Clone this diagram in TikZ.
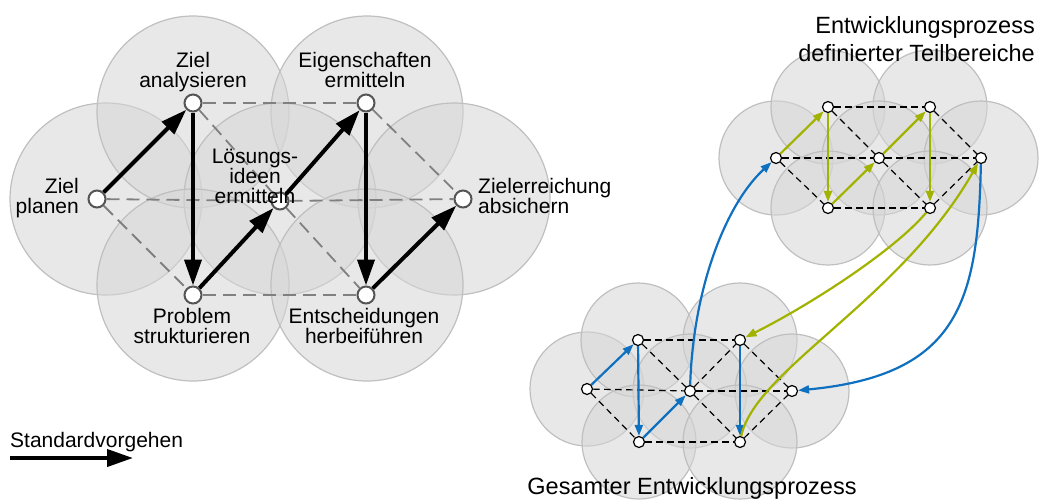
\documentclass[tikz,border=0pt]{standalone}
\usepackage{fontspec}
\setmainfont{Liberation Sans}
\usetikzlibrary{arrows.meta}
\definecolor{olivearrow}{RGB}{162,178,0}
\definecolor{bluearrow}{RGB}{16,112,192}
\definecolor{nodegray}{RGB}{85,85,85}
\definecolor{dashgray}{RGB}{128,128,128}
\begin{document}
\begin{tikzpicture}[x=1pt,y=-1pt,
  zone/.style={fill=black!16,fill opacity=0.55,draw=black!25,line width=1.2pt},
  bignode/.style={circle,draw=nodegray,fill=white,line width=2pt,minimum size=17pt,inner sep=0pt},
  smallnode/.style={circle,draw=black,fill=white,line width=1.2pt,minimum size=11pt,inner sep=0pt},
  bigdash/.style={draw=dashgray,line width=1.8pt,dash pattern=on 13pt off 7pt},
  smalldash/.style={draw=black,line width=1.2pt,dash pattern=on 6.5pt off 4.5pt},
  stdarrow/.style={line width=4pt,-{Triangle[length=26pt,width=17pt]}},
  subarrow/.style={line width=2.2pt,-{Triangle[length=11pt,width=8pt]}},
  lbl/.style={font=\fontsize{21}{19.8}\selectfont,align=center,inner sep=0pt},
  ttl/.style={font=\fontsize{23.5}{27.5}\selectfont,inner sep=0pt}]
\useasboundingbox (0,0) rectangle (1040,501);

% ---------- left: overall method, seven overlapping zones ----------
\foreach \p in {(106,199),(193,112),(367,112),(280,199),(454,199),(193,285),(367,285)}
  \draw[zone] \p circle[radius=96pt];

\node[bignode] (L)  at (97,199)  {};
\node[bignode] (TL) at (193,103) {};
\node[bignode] (TR) at (366,103) {};
\node[bignode] (C)  at (280,201) {};
\node[bignode] (R)  at (463,199) {};
\node[bignode] (BL) at (193,295) {};
\node[bignode] (BR) at (366,295) {};

\draw[bigdash] (TL) -- (TR);
\draw[bigdash] (L) -- (C);
\draw[bigdash] (C) -- (R);
\draw[bigdash] (BL) -- (BR);
\draw[bigdash] (L) -- (BL);
\draw[bigdash] (TL) -- (C);
\draw[bigdash] (C) -- (BR);
\draw[bigdash] (TR) -- (R);

\draw[stdarrow] (L) -- (TL);
\draw[stdarrow] (TL) -- (BL);
\draw[stdarrow] (BL) -- (C);
\draw[stdarrow] (C) -- (TR);
\draw[stdarrow] (TR) -- (BR);
\draw[stdarrow] (BR) -- (R);

% multi-line labels: the base anchor sits on the last line
\node[lbl,anchor=base] (tTL) at (193,87.3) {Ziel\\analysieren};
\node[lbl,anchor=base] (tTR) at (365,87.3) {Eigenschaften\\ermitteln};
\node[lbl,anchor=base east,align=right] (tL) at (79,213) {Ziel\\planen};
\node[lbl,anchor=base west,align=left] (tR) at (478,213) {Zielerreichung\\absichern};
\node[lbl,anchor=base] (tC) at (255,203) {Lösungs-\\ideen\\ermitteln};
\node[lbl,anchor=base] (tBL) at (192,343) {Problem\\strukturieren};
\node[lbl,anchor=base] (tBR) at (364,343) {Entscheidungen\\herbeiführen};

% legend
\node[lbl,anchor=base west] (leg) at (10,447) {Standardvorgehen};
\coordinate (legA) at (10,458);
\coordinate (legB) at (133,458);
\draw[stdarrow] (legA) -- (legB);

% ---------- upper right: sub-process of defined areas ----------
\foreach \p in {(776,158),(828,107),(930,107),(879,158),(981,158),(828,208),(930,208)}
  \draw[zone] \p circle[radius=57pt];

\node[smallnode] (uL)  at (776,158) {};
\node[smallnode] (uTL) at (828,107) {};
\node[smallnode] (uTR) at (930,107) {};
\node[smallnode] (uC)  at (879,158) {};
\node[smallnode] (uR)  at (981,158) {};
\node[smallnode] (uBL) at (828,208) {};
\node[smallnode] (uBR) at (930,208) {};

\draw[smalldash] (uTL) -- (uTR);
\draw[smalldash] (uL) -- (uC);
\draw[smalldash] (uC) -- (uR);
\draw[smalldash] (uBL) -- (uBR);
\draw[smalldash] (uL) -- (uBL);
\draw[smalldash] (uTL) -- (uC);
\draw[smalldash] (uC) -- (uBR);
\draw[smalldash] (uTR) -- (uR);
\draw[smalldash] (uBR) -- (uR);

\draw[subarrow,olivearrow] (uL) -- (uTL);
\draw[subarrow,olivearrow] (uTL) -- (uBL);
\draw[subarrow,olivearrow] (uBL) -- (uC);
\draw[subarrow,olivearrow] (uC) -- (uTR);
\draw[subarrow,olivearrow] (uTR) -- (uBR);

\node[ttl,anchor=base east] (uT1) at (1035,33) {Entwicklungsprozess};
\node[ttl,anchor=base east] (uT2) at (1035,61) {definierter Teilbereiche};

% ---------- lower right: overall development process ----------
\foreach \p in {(587,389),(638,340),(740,340),(690,391),(792,391),(639,442),(740,442)}
  \draw[zone] \p circle[radius=57pt];

\node[smallnode] (dL)  at (587,389) {};
\node[smallnode] (dTL) at (638,340) {};
\node[smallnode] (dTR) at (740,340) {};
\node[smallnode] (dC)  at (690,391) {};
\node[smallnode] (dR)  at (792,391) {};
\node[smallnode] (dBL) at (639,442) {};
\node[smallnode] (dBR) at (740,442) {};

\draw[smalldash] (dTL) -- (dTR);
\draw[smalldash] (dL) -- (dC);
\draw[smalldash] (dC) -- (dR);
\draw[smalldash] (dBL) -- (dBR);
\draw[smalldash] (dL) -- (dBL);
\draw[smalldash] (dTL) -- (dC);
\draw[smalldash] (dC) -- (dTR);
\draw[smalldash] (dC) -- (dBR);
\draw[smalldash] (dTR) -- (dR);
\draw[smalldash] (dBR) -- (dR);

\draw[subarrow,bluearrow] (dL) -- (dTL);
\draw[subarrow,bluearrow] (dTL) -- (dBL);
\draw[subarrow,bluearrow] (dBL) -- (dC);
\draw[subarrow,bluearrow] (dTR) -- (dBR);

\node[ttl,anchor=base] (dT) at (692,494) {Gesamter Entwicklungsprozess};

% ---------- hand-overs between the two levels ----------
\draw[subarrow,bluearrow] (dC) .. controls (693,290) and (725,205) .. (uL);
\draw[subarrow,olivearrow] (uBR) .. controls (895,250) and (810,305) .. (dTR);
\draw[subarrow,olivearrow] (dBR) .. controls (755,370) and (900,300) .. (uR);
\draw[subarrow,bluearrow] (uR) .. controls (978,300) and (960,375) .. (dR);
\end{tikzpicture}
\end{document}
